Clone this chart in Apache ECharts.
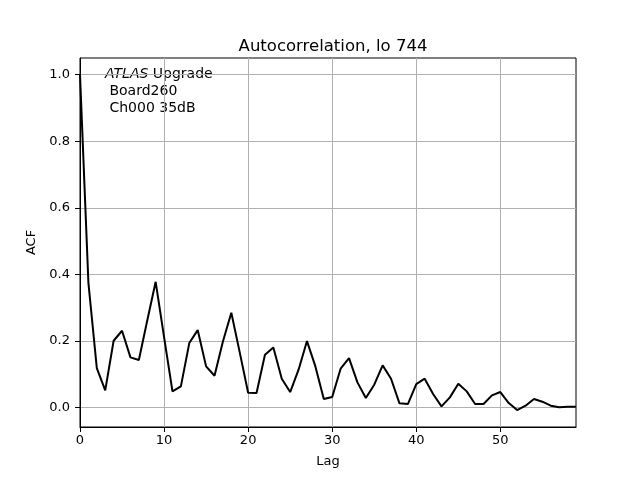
<!DOCTYPE html>
<html><head><meta charset="utf-8">
<script src="https://cdn.jsdelivr.net/npm/echarts@6/dist/echarts.min.js"></script>
<style>html,body{margin:0;padding:0;background:#fff}#c{width:640px;height:480px}</style>
</head><body><div id="c"></div>
<script>
const lags = Array.from({length:60},(_,i)=>i);
const acf = [1.0,0.375,0.119,0.052,0.201,0.231,0.151,0.143,0.262,0.378,
0.212,0.049,0.064,0.194,0.233,0.124,0.096,0.199,0.285,0.166,
0.045,0.044,0.159,0.181,0.087,0.047,0.114,0.200,0.124,0.026,
0.032,0.117,0.149,0.076,0.029,0.069,0.127,0.087,0.013,0.011,
0.071,0.087,0.041,0.004,0.031,0.072,0.049,0.011,0.011,0.037,
0.047,0.014,-0.007,0.006,0.026,0.018,0.006,0.001,0.003,0.003];
const xTicks = [0,10,20,30,40,50];
const yTicks = [0.0,0.2,0.4,0.6,0.8,1.0];
const titleText = 'Autocorrelation, lo 744';
const font = 'DejaVu Sans';
const chart = echarts.init(document.getElementById('c'));
chart.setOption({
  animation:false,
  backgroundColor:'#fff',
  title:{text:titleText,left:328,top:33,textAlign:'center',textStyle:{fontFamily:font,fontSize:16.5,fontWeight:'normal',color:'#000'}},
  grid:{left:80,right:64,top:58,bottom:53,show:true,borderColor:'#000',borderWidth:1,backgroundColor:'transparent'},
  xAxis:{type:'value',min:0,max:59,name:'Lag',nameLocation:'middle',nameGap:28,
    nameTextStyle:{fontFamily:font,fontSize:13,color:'#000'},
    axisLine:{show:true,onZero:false,lineStyle:{color:'#000',width:1}},
    axisTick:{show:true,inside:false,length:5,lineStyle:{color:'#000'},customValues:xTicks},
    axisLabel:{fontFamily:font,fontSize:13,color:'#000',margin:7,customValues:xTicks},
    splitLine:{show:true,lineStyle:{color:'#b0b0b0',width:1}}},
  yAxis:{type:'value',min:-0.058,max:1.05,name:'ACF',nameLocation:'middle',nameGap:40,nameRotate:90,
    nameTextStyle:{fontFamily:font,fontSize:13,color:'#000'},
    axisLine:{show:true,onZero:false,lineStyle:{color:'#000',width:1}},
    axisTick:{show:true,inside:false,length:5,lineStyle:{color:'#000'},customValues:yTicks},
    axisLabel:{fontFamily:font,fontSize:13,color:'#000',margin:10,customValues:yTicks,formatter:v=>v.toFixed(1)},
    splitLine:{show:true,lineStyle:{color:'#b0b0b0',width:1}}},
  graphic:[{type:'text',left:105,top:66,style:{
    text:'{i|ATLAS} Upgrade\n Board260\n Ch000 35dB',
    fontFamily:font,fontSize:14,fill:'#000',lineHeight:17,
    rich:{i:{fontStyle:'italic',fontFamily:font,fontSize:14,fill:'#000',lineHeight:17}}}}],
  series:[{type:'line',data:lags.map((l,i)=>[l,acf[i]]),showSymbol:false,symbol:'none',
    lineStyle:{color:'#000',width:2},clip:true}]
});
</script></body></html>
